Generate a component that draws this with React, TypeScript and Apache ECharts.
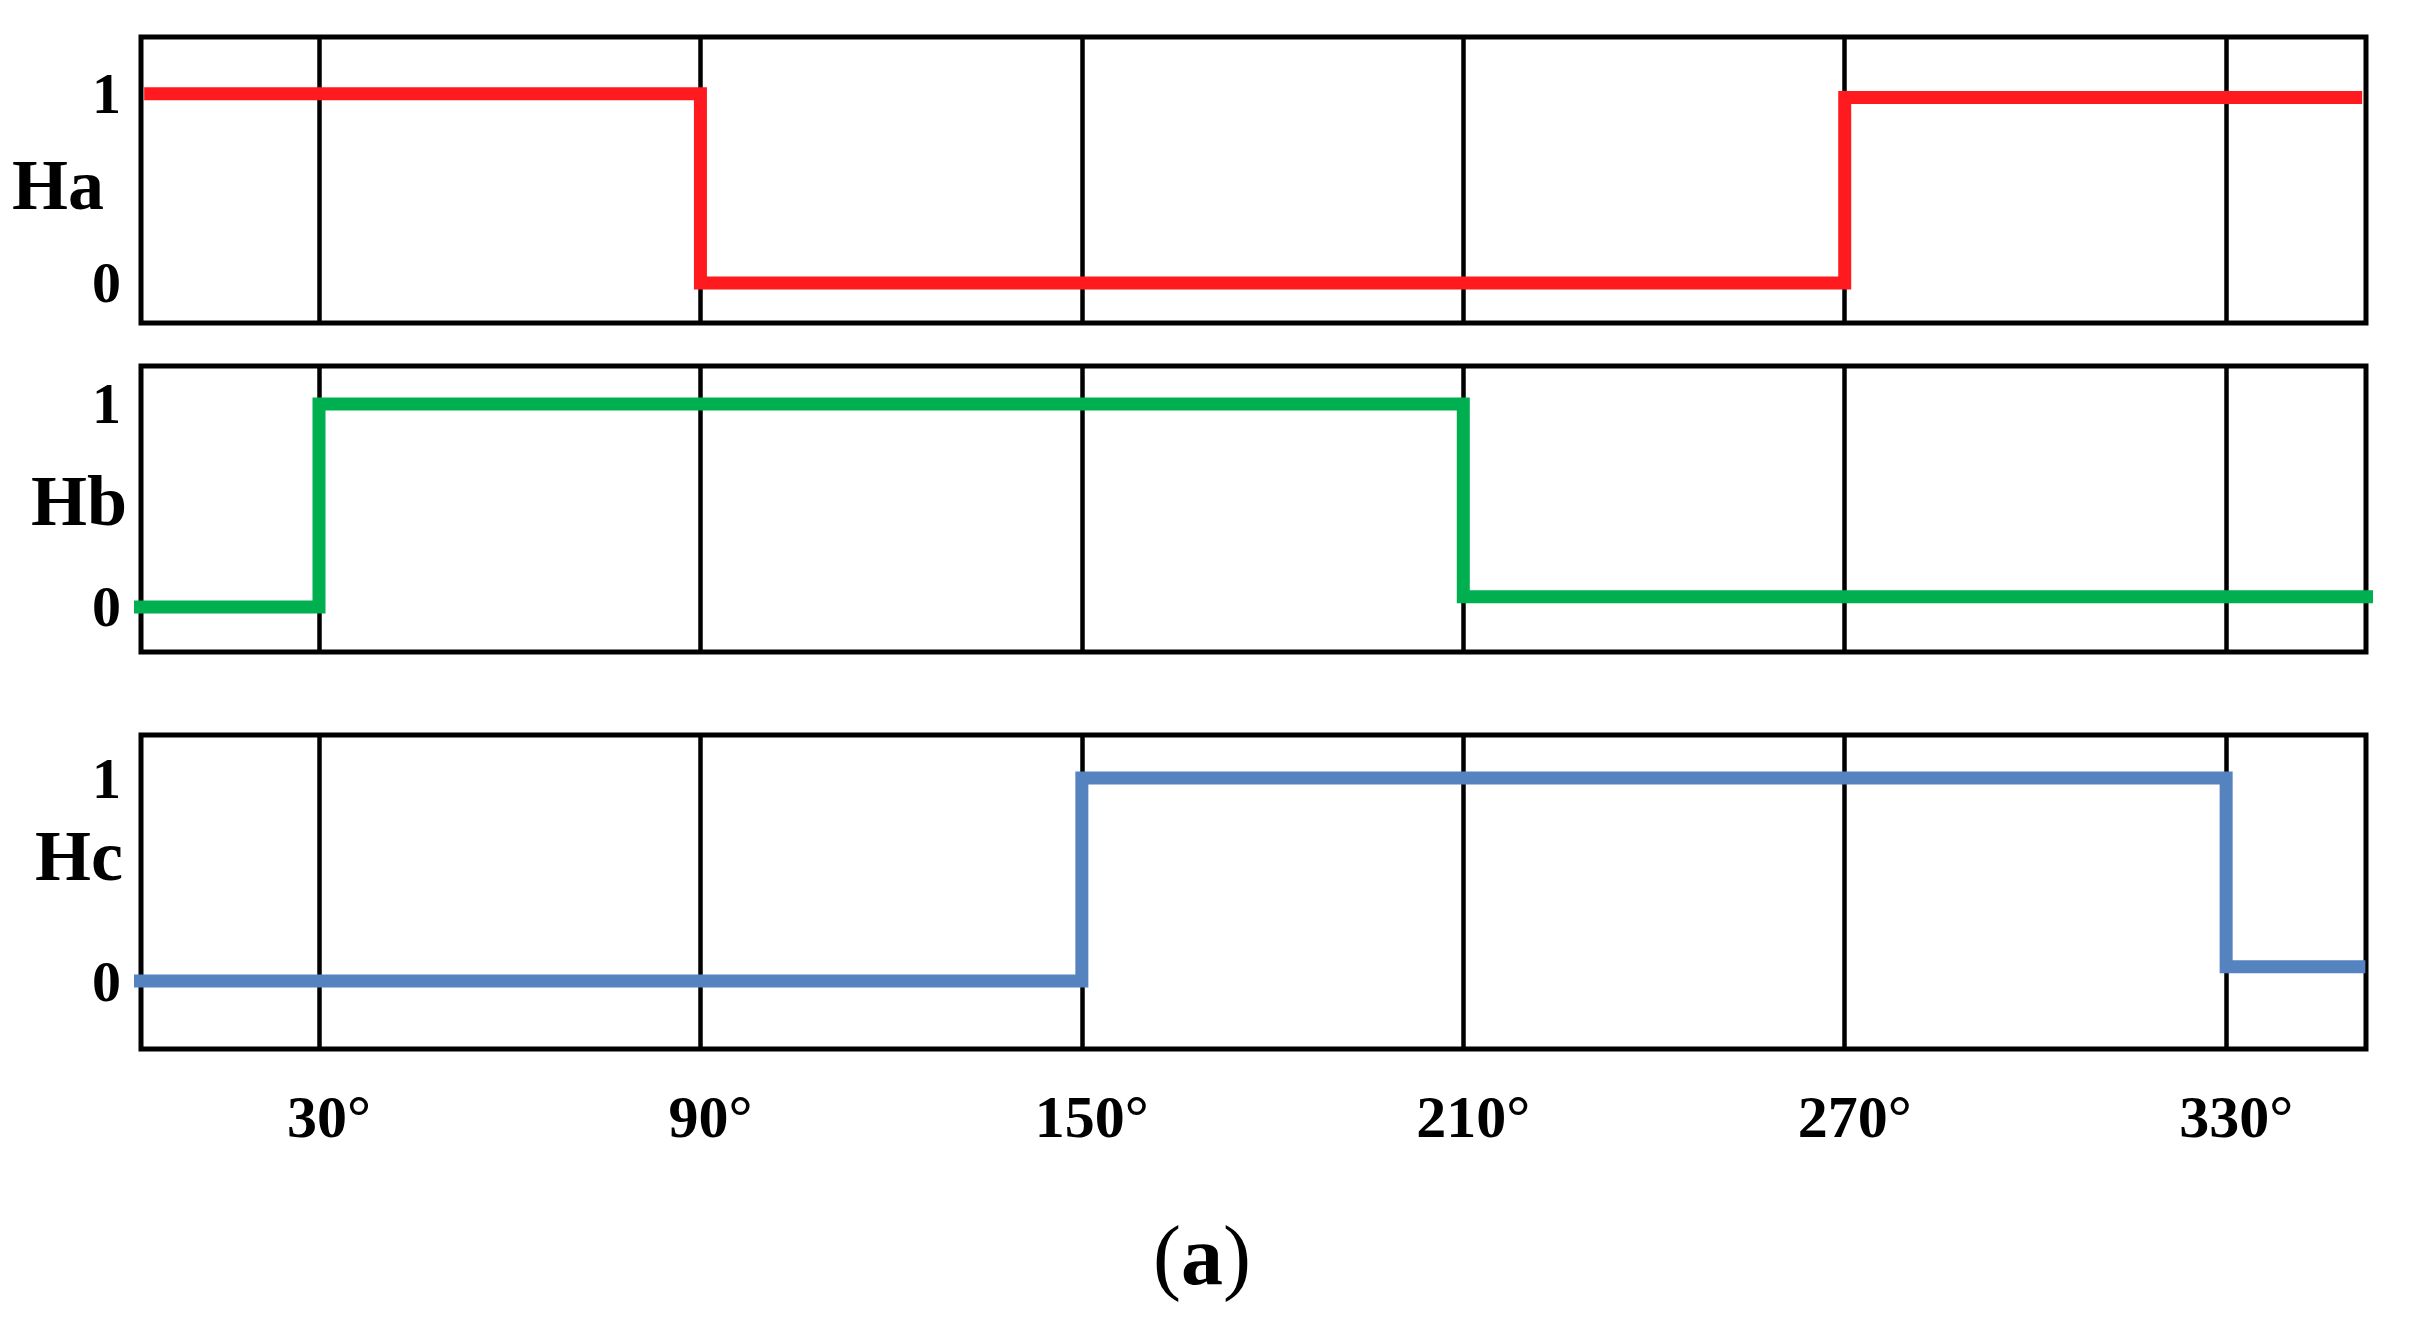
import React, { useEffect, useRef } from 'react';
import * as echarts from 'echarts';

// ---- data ----
const angleTicks = [30, 90, 150, 210, 270, 330];
const angleLabels = ['30°', '90°', '150°', '210°', '270°', '330°'];
const levelTicks = [0, 1];
const levelLabels = ['0', '1'];
const signalNames = ['Ha', 'Hb', 'Hc'];

// step transitions (angle where level starts) and the level held
const haAngles = [2.5, 90, 270, 351.4];
const haLevels = [1, 0, 0.98, 0.98];
const hbAngles = [0.4, 30, 210, 353.4];
const hbLevels = [0, 1, 0.05, 0.05];
const hcAngles = [0.9, 150, 330, 351.9];
const hcLevels = [0, 1, 0.07, 0.07];

const signalColors = ['#FF1A1F', '#00B050', '#5483C0'];

const FONT = "'Liberation Serif', 'Times New Roman', serif";

export default function App() {
  const ref = useRef<HTMLDivElement>(null);

  useEffect(() => {
    if (!ref.current) return;
    const chart = echarts.init(ref.current, undefined, { renderer: 'svg' });

    const tops = [37, 366, 735];
    const heights = [286, 286, 314];
    const yMins = [-0.212, -0.222, -0.335];
    const yMaxs = [1.3, 1.187, 1.212];
    const nameCenters = [
      [58, 185],
      [79, 501],
      [79, 856],
    ];
    const seriesAngles = [haAngles, hbAngles, hcAngles];
    const seriesLevels = [haLevels, hbLevels, hcLevels];

    const grids = tops.map((t, i) => ({
      left: 141,
      width: 2225,
      top: t,
      height: heights[i],
      show: true,
      borderColor: '#000',
      borderWidth: 5,
      backgroundColor: 'transparent',
    }));

    const xAxes = tops.map((_, i) => ({
      type: 'value',
      gridIndex: i,
      min: 2,
      max: 352,
      axisLine: { show: false },
      axisTick: { show: false, customValues: angleTicks },
      splitLine: { show: true, lineStyle: { color: '#000', width: 4.5 } },
      axisLabel: {
        show: i === 2,
        customValues: angleTicks,
        formatter: (v: number) => angleLabels[angleTicks.indexOf(v)] ?? '',
        fontFamily: FONT,
        fontWeight: 'bold',
        fontSize: 60,
        color: '#000',
        margin: 38,
        padding: [0, 0, 0, 20],
      },
    }));

    const yAxes = tops.map((_, i) => ({
      type: 'value',
      gridIndex: i,
      min: yMins[i],
      max: yMaxs[i],
      axisLine: { show: false },
      axisTick: { show: false },
      splitLine: { show: false },
      axisLabel: {
        show: true,
        customValues: levelTicks,
        formatter: (v: number) => levelLabels[levelTicks.indexOf(v)] ?? '',
        fontFamily: FONT,
        fontWeight: 'bold',
        fontSize: 58,
        color: '#000',
        margin: 20,
      },
    }));

    const series = seriesAngles.map((angles, i) => ({
      type: 'line',
      xAxisIndex: i,
      yAxisIndex: i,
      step: 'end',
      clip: false,
      symbol: 'none',
      silent: true,
      data: angles.map((a, j) => [a, seriesLevels[i][j]]),
      lineStyle: { color: signalColors[i], width: 13, cap: 'butt', join: 'miter' },
      z: 5,
    }));

    const graphic: any[] = signalNames.map((n, i) => ({
      type: 'text',
      x: nameCenters[i][0],
      y: nameCenters[i][1],
      style: {
        text: n,
        fontFamily: FONT,
        fontWeight: 'bold',
        fontSize: 72,
        fill: '#000',
        align: 'center',
        verticalAlign: 'middle',
      },
    }));
    graphic.push({
      type: 'text',
      x: 1202,
      y: 1255,
      style: {
        text: '{p|(}{a|a}{p|)}',
        align: 'center',
        verticalAlign: 'middle',
        rich: {
          p: { fontFamily: FONT, fontSize: 84, fontWeight: 'normal', fill: '#000' },
          a: { fontFamily: FONT, fontSize: 84, fontWeight: 'bold', fill: '#000' },
        },
      },
    });

    chart.setOption({
      animation: false,
      backgroundColor: '#fff',
      grid: grids,
      xAxis: xAxes,
      yAxis: yAxes,
      series,
      graphic,
    });

    return () => chart.dispose();
  }, []);

  return (
    <div
      ref={ref}
      style={{ position: 'fixed', left: 0, top: 0, width: 2410, height: 1318 }}
    />
  );
}
